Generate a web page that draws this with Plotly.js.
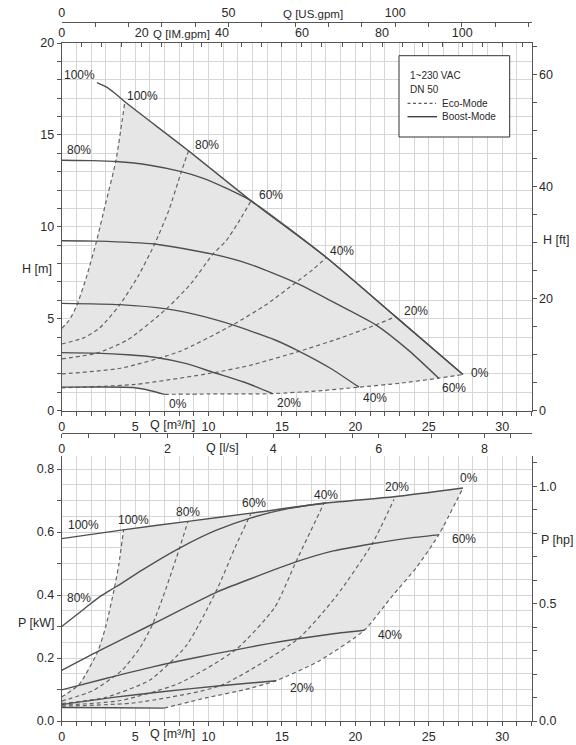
<!DOCTYPE html>
<html><head><meta charset="utf-8">
<script src="https://cdn.plot.ly/plotly-3.0.1.min.js"></script>
<style>html,body{margin:0;padding:0;background:#fff}#c{width:576px;height:745px}</style>
</head><body><div id="c"></div>
<script>
// ---------- H-Q chart data (Q in m3/h, H in m) ----------
const hB100Q = [2.4, 3.0, 3.6, 4.3, 8.64, 12.9, 18.03, 22.74, 27.33];
const hB100H = [17.84, 17.62, 17.28, 16.8, 14.13, 11.41, 8.33, 5.11, 1.96];
const hB80Q = [0, 2, 3.73, 6, 8.15, 9.6, 11.2, 12.9, 18.03, 22.74, 27.33];
const hB80H = [13.62, 13.6, 13.55, 13.35, 13.0, 12.65, 12.1, 11.41, 8.33, 5.11, 1.96];
const hB60Q = [0, 2.38, 6.33, 10.3, 12.78, 15.9, 18.5, 21.4, 23.65, 25.68];
const hB60H = [9.24, 9.22, 9.06, 8.51, 7.97, 6.97, 5.9, 4.66, 3.26, 1.76];
const hB40Q = [0, 3.96, 7.13, 9.5, 11.65, 12.78, 14.5, 16.18, 18.3, 20.25];
const hB40H = [5.83, 5.76, 5.53, 5.15, 4.66, 4.35, 3.85, 3.22, 2.3, 1.27];
const hB20Q = [0, 2.38, 4.5, 6.33, 8.5, 10.3, 12.4, 14.37];
const hB20H = [3.15, 3.12, 3.03, 2.9, 2.55, 2.08, 1.55, 0.92];
const hB0Q = [0, 2.5, 4.86, 5.99, 7.0];
const hB0H = [1.27, 1.28, 1.25, 1.09, 0.88];

const hE100Q = [0, 0.5, 1.02, 1.7, 2.38, 3.0, 3.69, 4.3];
const hE100H = [4.47, 4.9, 5.7, 7.3, 9.24, 11.3, 13.59, 16.8];
const hE80Q = [0, 1.5, 2.6, 3.96, 5.2, 6.33, 7.3, 8.15, 8.64];
const hE80H = [3.62, 3.95, 4.5, 5.76, 7.3, 9.06, 10.9, 13.0, 14.13];
const hE60Q = [0, 2.38, 4.5, 7.13, 8.8, 10.3, 11.2, 12.0, 12.9];
const hE60H = [2.81, 3.12, 3.85, 5.53, 6.9, 8.51, 9.24, 10.2, 11.41];
const hE40Q = [0, 4, 8, 11.65, 14, 15.95, 17, 18.03];
const hE40H = [1.99, 2.3, 3.2, 4.66, 5.8, 6.97, 7.6, 8.33];
const hE20Q = [0, 5, 10.3, 12.78, 16.18, 19, 21.4, 22.74];
const hE20H = [1.23, 1.42, 2.05, 2.45, 3.22, 3.95, 4.66, 5.11];
const hE0Q = [7.0, 10, 14.4, 17.5, 20.25, 23, 25.68, 27.33];
const hE0H = [0.88, 0.9, 0.92, 1.07, 1.27, 1.48, 1.76, 1.96];

// ---------- P-Q chart data (Q in m3/h, P in kW) ----------
const pB100Q = [0, 4.18, 8.6, 12.9, 18.0, 22.63, 27.33];
const pB100P = [0.579, 0.607, 0.634, 0.66, 0.692, 0.712, 0.74];
const pB80Q = [0, 1.5, 2.6, 3.73, 5.5, 8.03, 10.5, 12.9, 15.5, 18.0];
const pB80P = [0.3, 0.355, 0.395, 0.427, 0.48, 0.549, 0.605, 0.645, 0.675, 0.692];
const pB60Q = [0, 2.2, 6.2, 10.6, 12.78, 15.95, 18.5, 21.15, 23.5, 25.68];
const pB60P = [0.161, 0.215, 0.308, 0.41, 0.45, 0.505, 0.54, 0.563, 0.58, 0.591];
const pB40Q = [0, 3, 6.2, 9, 11.85, 14, 16.1, 18.5, 20.6];
const pB40P = [0.099, 0.135, 0.172, 0.2, 0.226, 0.245, 0.261, 0.277, 0.288];
const pB20Q = [0, 3.5, 6.84, 10.8, 14.6];
const pB20P = [0.052, 0.075, 0.093, 0.112, 0.128];
const pB0Q = [0, 3.5, 6.96];
const pB0P = [0.043, 0.042, 0.041];

const pE100Q = [0, 1.2, 2.45, 3.0, 3.58, 3.9, 4.22];
const pE100P = [0.076, 0.117, 0.22, 0.3, 0.42, 0.5, 0.609];
const pE80Q = [0, 2.1, 4.1, 5.3, 6.2, 7.1, 8.03, 8.6];
const pE80P = [0.063, 0.096, 0.161, 0.23, 0.308, 0.42, 0.549, 0.634];
const pE60Q = [0, 3, 6, 8.5, 10.6, 11.8, 12.9];
const pE60P = [0.055, 0.075, 0.13, 0.24, 0.42, 0.55, 0.66];
const pE40Q = [0, 4, 8, 11.85, 14.5, 15.95, 17.87];
const pE40P = [0.05, 0.065, 0.12, 0.226, 0.36, 0.505, 0.692];
const pE20Q = [0, 5, 10.8, 16.1, 18.7, 21.15, 22.63];
const pE20P = [0.047, 0.058, 0.112, 0.261, 0.396, 0.563, 0.703];
const pE0Q = [6.96, 10, 12.5, 14.6, 17.5, 20.6, 22.5, 24.2, 25.68, 27.33];
const pE0P = [0.041, 0.075, 0.1, 0.128, 0.19, 0.288, 0.396, 0.49, 0.591, 0.74];

// curve labels [text, Q, value]
const hLabels = [["100%",1.24,18.24],["100%",5.5,17.12],["80%",1.15,14.18],["80%",9.88,14.47],
  ["60%",14.26,11.72],["40%",19.08,8.66],["20%",24.1,5.4],["0%",28.5,2.03],
  ["60%",26.75,1.25],["40%",21.34,0.69],["20%",15.5,0.4],["0%",7.92,0.33]];
const pLabels = [["100%",1.47,0.623],["100%",4.86,0.639],["80%",8.6,0.663],["60%",13.12,0.692],
  ["40%",17.99,0.718],["20%",22.85,0.743],["0%",27.77,0.771],["60%",27.38,0.579],
  ["40%",22.36,0.273],["20%",16.35,0.104],["80%",1.15,0.39]];

// unit conversion factors
const M3H_TO_USGPM = 4.4029, M3H_TO_IMGPM = 3.6662, M3H_TO_LS = 1/3.6, M_TO_FT = 1/0.3048, KW_TO_HP = 1/0.7457;
const Q_MAX = 32, H_MAX = 20, P_MAX = 0.843;

// ---------- layout geometry (pixels) ----------
const W = 576, HH = 745;
const fx = v => v / W, fy = v => 1 - v / HH;
const xDom = [fx(61.7), fx(531.5)];
const yDomTop = [fy(410.5), fy(43)];
const yDomBot = [fy(721), fy(455.5)];

const solid = '#505050', dashC = '#646464', gridC = '#d6d6d6', axC = '#555555', txt = '#2a2a2a';
const FONT = 'Liberation Sans, Arial, sans-serif';

const traces = [];
function fillPoly(xs, ys, xa, ya) {
  traces.push({x: xs, y: ys, xaxis: xa, yaxis: ya, mode: 'lines', fill: 'toself',
    fillcolor: '#e6e6e6', line: {width: 0, color: 'rgba(0,0,0,0)'}, hoverinfo: 'skip', showlegend: false});
}
// H chart shaded region
{
  const i0 = hB100Q.indexOf(4.3);
  const xs = [0].concat(hE100Q, hB100Q.slice(i0 + 1), hE0Q.slice().reverse().slice(1), hB0Q.slice().reverse());
  const ys = [hB0H[0]].concat(hE100H, hB100H.slice(i0 + 1), hE0H.slice().reverse().slice(1), hB0H.slice().reverse());
  fillPoly(xs, ys, 'x', 'y');
}
// P chart shaded region
{
  const i0 = 1;
  const xs = [0].concat(pE100Q, pB100Q.slice(i0 + 1), pE0Q.slice().reverse().slice(1), pB0Q.slice().reverse());
  const ys = [pB0P[0]].concat(pE100P, pB100P.slice(i0 + 1), pE0P.slice().reverse().slice(1), pB0P.slice().reverse());
  fillPoly(xs, ys, 'x2', 'y3');
}
function line(xs, ys, xa, ya, dashed) {
  traces.push({x: xs, y: ys, xaxis: xa, yaxis: ya, mode: 'lines', hoverinfo: 'skip', showlegend: false,
    line: dashed ? {color: dashC, width: 1.2, dash: '4px,3px', shape: 'spline', smoothing: 0.6}
                 : {color: solid, width: 1.4, shape: 'spline', smoothing: 0.6}});
}
[[hE100Q,hE100H],[hE80Q,hE80H],[hE60Q,hE60H],[hE40Q,hE40H],[hE20Q,hE20H],[hE0Q,hE0H]].forEach(a=>line(a[0],a[1],'x','y',true));
[[hB100Q,hB100H],[hB80Q,hB80H],[hB60Q,hB60H],[hB40Q,hB40H],[hB20Q,hB20H],[hB0Q,hB0H]].forEach(a=>line(a[0],a[1],'x','y',false));
[[pE100Q,pE100P],[pE80Q,pE80P],[pE60Q,pE60P],[pE40Q,pE40P],[pE20Q,pE20P],[pE0Q,pE0P]].forEach(a=>line(a[0],a[1],'x2','y3',true));
[[pB100Q,pB100P],[pB80Q,pB80P],[pB60Q,pB60P],[pB40Q,pB40P],[pB20Q,pB20P],[pB0Q,pB0P]].forEach(a=>line(a[0],a[1],'x2','y3',false));

// dummy traces so secondary axes get drawn
[['x3','y'],['x4','y'],['x','y2'],['x5','y3'],['x2','y4'],['x2','y5']].forEach(p=>{
  traces.push({x:[null], y:[null], xaxis:p[0], yaxis:p[1], mode:'markers', hoverinfo:'skip', showlegend:false});
});

const tf = {family: FONT, size: 12.5, color: txt};
const baseAx = {showline: true, linecolor: axC, linewidth: 1, ticks: 'outside', ticklen: 4, tickcolor: axC,
  tickfont: tf, zeroline: false, automargin: false, fixedrange: true};

const layout = {
  width: W, height: HH, margin: {l: 0, r: 0, t: 0, b: 0}, paper_bgcolor: '#fff', plot_bgcolor: '#fff',
  showlegend: false, font: {family: FONT, color: txt},
  xaxis: Object.assign({}, baseAx, {domain: xDom, anchor: 'y', range: [0, Q_MAX], dtick: 5, tick0: 0,
    showgrid: true, gridcolor: gridC, minor: {dtick: 1, ticks: 'outside', ticklen: 4, tickcolor: axC, showgrid: true, gridcolor: gridC}, mirror: false}),
  yaxis: Object.assign({}, baseAx, {domain: yDomTop, anchor: 'x', range: [0, H_MAX], dtick: 5,
    showgrid: true, gridcolor: gridC, minor: {dtick: 1, ticks: 'outside', ticklen: 4, tickcolor: axC, showgrid: true, gridcolor: gridC}}),
  yaxis2: Object.assign({}, baseAx, {overlaying: 'y', side: 'right', anchor: 'x', range: [0, H_MAX * M_TO_FT], dtick: 20,
    showgrid: false, minor: {dtick: 5, ticks: 'outside', ticklen: 4, tickcolor: axC}}),
  xaxis3: Object.assign({}, baseAx, {overlaying: 'x', side: 'top', anchor: 'y', range: [0, Q_MAX * M3H_TO_IMGPM], dtick: 20,
    ticks: 'inside', showgrid: false, minor: {dtick: 5, ticks: 'inside', ticklen: 4, tickcolor: axC}}),
  xaxis4: Object.assign({}, baseAx, {overlaying: 'x', side: 'top', anchor: 'free', position: fy(22), range: [0, Q_MAX * M3H_TO_USGPM], dtick: 50,
    ticks: 'inside', showgrid: false, minor: {dtick: 10, ticks: 'inside', ticklen: 4, tickcolor: axC}}),
  xaxis2: Object.assign({}, baseAx, {domain: xDom, anchor: 'y3', range: [0, Q_MAX], dtick: 5,
    showgrid: true, gridcolor: gridC, minor: {dtick: 1, ticks: 'outside', ticklen: 4, tickcolor: axC, showgrid: true, gridcolor: gridC}}),
  xaxis5: Object.assign({}, baseAx, {overlaying: 'x2', side: 'bottom', anchor: 'free', position: fy(433.3), range: [0, Q_MAX * M3H_TO_LS], dtick: 2,
    showgrid: false, minor: {dtick: 0.5, ticks: 'outside', ticklen: 4, tickcolor: axC}}),
  yaxis3: Object.assign({}, baseAx, {domain: yDomBot, anchor: 'x2', range: [0, P_MAX], dtick: 0.2, tickformat: '.1f',
    showgrid: false, minor: {dtick: 0.1, ticks: 'outside', ticklen: 4, tickcolor: axC}}),
  yaxis5: {overlaying: 'y3', anchor: 'x2', range: [0, P_MAX], dtick: 0.05, showgrid: true, gridcolor: gridC,
    showticklabels: false, ticks: '', showline: false, zeroline: false, fixedrange: true},
  yaxis4: Object.assign({}, baseAx, {overlaying: 'y3', side: 'right', anchor: 'x2', range: [0, P_MAX * KW_TO_HP], dtick: 0.5, tickformat: '.1f',
    showgrid: false, minor: {dtick: 0.1, ticks: 'outside', ticklen: 4, tickcolor: axC}}),
  shapes: [], annotations: []
};

const ann = layout.annotations;
function ptext(t, x, y, size, anchor) {
  ann.push({text: t, xref: 'paper', yref: 'paper', x: fx(x), y: fy(y), showarrow: false,
    xanchor: anchor || 'center', yanchor: 'middle', font: {family: FONT, size: size || 12.5, color: txt}});
}
hLabels.forEach(l => ann.push({text: l[0], xref: 'x', yref: 'y', x: l[1], y: l[2], showarrow: false,
  xanchor: 'center', yanchor: 'middle', font: {family: FONT, size: 12, color: txt}}));
pLabels.forEach(l => ann.push({text: l[0], xref: 'x2', yref: 'y3', x: l[1], y: l[2], showarrow: false,
  xanchor: 'center', yanchor: 'middle', font: {family: FONT, size: 12, color: txt}}));

// axis titles
ptext('Q [US.gpm]', 312.6, 13.5, 11.5);
ptext('Q [IM.gpm]', 181.7, 34.5, 11.5);
ptext('H [m]', 37, 269);
ptext('H [ft]', 556, 240);
ptext('Q [m³/h]', 172, 424.5);
ptext('Q [l/s]', 222, 447.5);
ptext('P [kW]', 36, 623);
ptext('P [hp]', 557, 540);
ptext('Q [m³/h]', 172, 734);

// legend box
layout.shapes.push({type: 'rect', xref: 'paper', yref: 'paper', x0: fx(399), x1: fx(509.7), y0: fy(137), y1: fy(55.7),
  line: {color: '#333', width: 1}, fillcolor: '#fff', layer: 'above'});
layout.shapes.push({type: 'line', xref: 'paper', yref: 'paper', x0: fx(407.5), x1: fx(436), y0: fy(103.3), y1: fy(103.3),
  line: {color: '#333', width: 1, dash: '3px,2.5px'}});
layout.shapes.push({type: 'line', xref: 'paper', yref: 'paper', x0: fx(407.5), x1: fx(437), y0: fy(116.7), y1: fy(116.7),
  line: {color: '#333', width: 1.3}});
ptext('1~230 VAC', 407.5, 75.7, 10, 'left');
ptext('DN 50', 407.5, 89.7, 10, 'left');
ptext('Eco-Mode', 440, 103.3, 10, 'left');
ptext('Boost-Mode', 440, 116.7, 10, 'left');

Plotly.newPlot('c', traces, layout, {staticPlot: true, displayModeBar: false});
</script></body></html>
